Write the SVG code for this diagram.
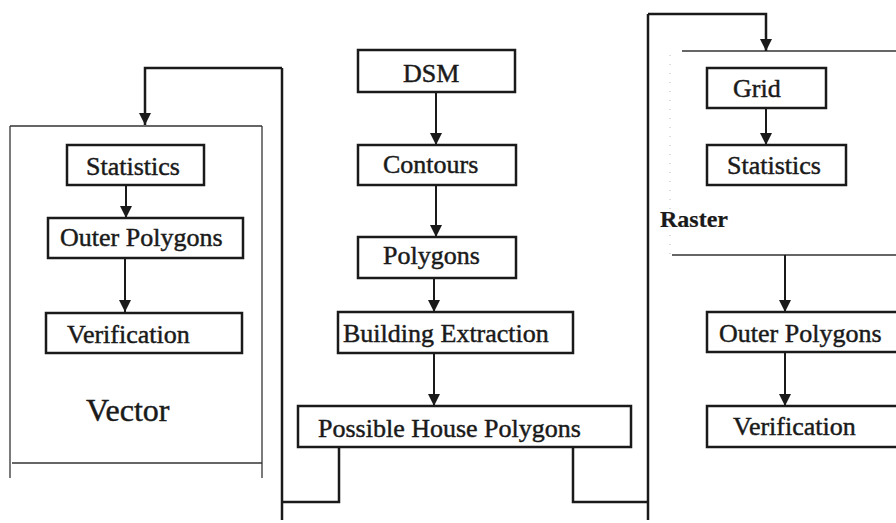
<svg xmlns="http://www.w3.org/2000/svg" width="896" height="523" viewBox="0 0 896 523">
<style>
.box{fill:#fff;stroke:#1a1a1a;stroke-width:2.5}
.t{font-family:"Liberation Serif","Times New Roman",serif;font-size:26px;fill:#1a1a1a;stroke:#1a1a1a;stroke-width:0.45}
.c{fill:none;stroke:#1a1a1a;stroke-width:2}
.frame{fill:none;stroke:#333;stroke-width:1.3}
.conn{fill:none;stroke:#1a1a1a;stroke-width:2.5}
</style>
<defs>
<marker id="ah" markerUnits="userSpaceOnUse" viewBox="0 0 10 10" refX="10" refY="5" markerWidth="12" markerHeight="12" orient="auto">
<path d="M0,0 L10,5 L0,10 z" fill="#1a1a1a"/>
</marker>
</defs>
<rect width="896" height="523" fill="#fff"/>

<g id="vector-frame">
<line class="frame" x1="10" y1="126" x2="262" y2="126"/>
<line class="frame" x1="10" y1="126" x2="10" y2="478"/>
<line class="frame" x1="262" y1="126" x2="262" y2="478"/>
<line class="frame" x1="12" y1="463" x2="262" y2="463"/>
<text class="t" x="86" y="421" style="font-size:32px">Vector</text>
</g>

<g id="raster-frame">
<line class="frame" x1="682" y1="51" x2="896" y2="51"/>
<line class="frame" x1="672" y1="255" x2="896" y2="255"/>
<line x1="670" y1="55" x2="670" y2="262" stroke="#bbb" stroke-width="1" stroke-dasharray="1 8"/>
<text class="t" x="660" y="227" style="font-size:24px;font-weight:bold;stroke-width:0.2">Raster</text>
</g>

<g id="connectors">
<path class="conn" d="M339,447 V502 H282"/>
<line class="conn" x1="282" y1="520" x2="282" y2="68"/>
<path class="conn" d="M282,68 H145 V125" marker-end="url(#ah)"/>
<path class="conn" d="M573,447 V502 H648"/>
<line class="conn" x1="648" y1="520" x2="648" y2="14"/>
<path class="conn" d="M648,14 H766 V51" marker-end="url(#ah)"/>
<line class="c" x1="126" y1="185" x2="126" y2="218" marker-end="url(#ah)"/>
<line class="c" x1="125" y1="258" x2="125" y2="312" marker-end="url(#ah)"/>
<line class="c" x1="436" y1="92" x2="436" y2="145" marker-end="url(#ah)"/>
<line class="c" x1="436" y1="185" x2="436" y2="237" marker-end="url(#ah)"/>
<line class="c" x1="434" y1="278" x2="434" y2="312" marker-end="url(#ah)"/>
<line class="c" x1="434" y1="353" x2="434" y2="406" marker-end="url(#ah)"/>
<line class="c" x1="766" y1="108" x2="766" y2="145" marker-end="url(#ah)"/>
<line class="c" x1="785" y1="255" x2="785" y2="312" marker-end="url(#ah)"/>
<line class="c" x1="785" y1="352" x2="785" y2="406" marker-end="url(#ah)"/>
</g>

<g id="v-statistics"><rect class="box" x="67" y="145" width="137" height="40"/><text class="t" x="86" y="175">Statistics</text></g>
<g id="v-outer"><rect class="box" x="48" y="218" width="195" height="40"/><text class="t" x="60" y="246">Outer Polygons</text></g>
<g id="v-verification"><rect class="box" x="46" y="313" width="196" height="40"/><text class="t" x="67" y="343">Verification</text></g>

<g id="dsm"><rect class="box" x="358" y="50" width="157" height="42"/><text class="t" x="403" y="82">DSM</text></g>
<g id="contours"><rect class="box" x="358" y="145" width="158" height="40"/><text class="t" x="383" y="173">Contours</text></g>
<g id="polygons"><rect class="box" x="358" y="237" width="158" height="41"/><text class="t" x="383" y="264">Polygons</text></g>
<g id="building"><rect class="box" x="338" y="312" width="235" height="41"/><text class="t" x="343" y="342">Building Extraction</text></g>
<g id="possible"><rect class="box" x="298" y="406" width="333" height="41"/><text class="t" x="318" y="437">Possible House Polygons</text></g>

<g id="r-grid"><rect class="box" x="707" y="68" width="119" height="40"/><text class="t" x="733" y="97">Grid</text></g>
<g id="r-statistics"><rect class="box" x="707" y="145" width="139" height="40"/><text class="t" x="727" y="174">Statistics</text></g>
<g id="r-outer"><rect class="box" x="707" y="312" width="200" height="40"/><text class="t" x="719" y="342">Outer Polygons</text></g>
<g id="r-verification"><rect class="box" x="707" y="406" width="200" height="41"/><text class="t" x="733" y="435">Verification</text></g>
</svg>
